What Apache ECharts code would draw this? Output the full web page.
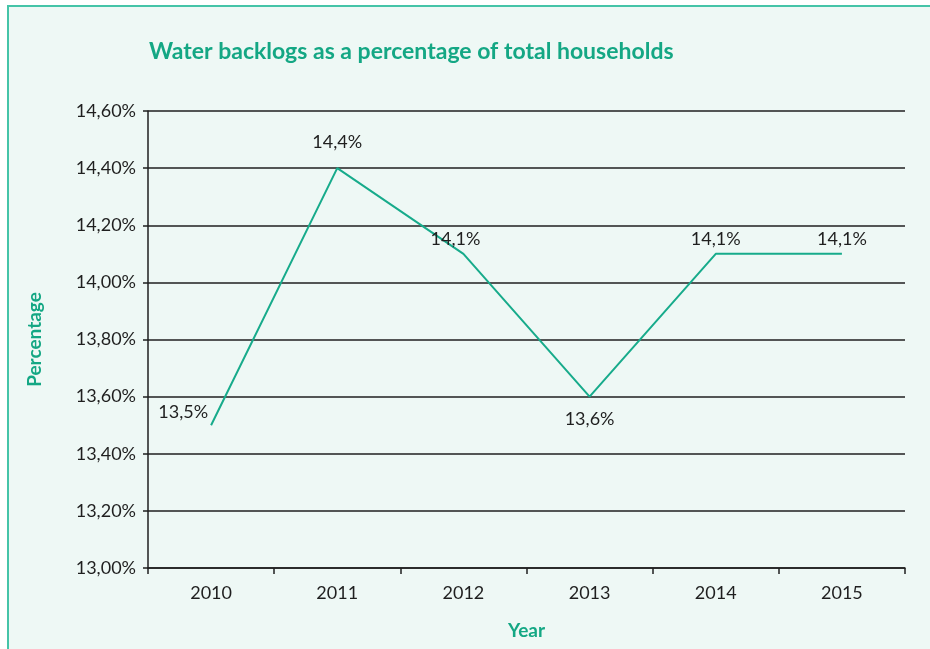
<!DOCTYPE html>
<html>
<head>
<meta charset="utf-8">
<script src="https://cdn.jsdelivr.net/npm/echarts@6/dist/echarts.min.js"></script>
<style>
  html, body { margin: 0; padding: 0; background: #ffffff; }
  #chart { width: 930px; height: 649px; }
</style>
</head>
<body>
<div id="chart"></div>
<script>
// Water backlogs, share of total households per year
const years = ['2010', '2011', '2012', '2013', '2014', '2015'];
const backlogPct = [13.5, 14.4, 14.1, 13.6, 14.1, 14.1];
const yMin = 13.0;
const yMax = 14.6;
const yStep = 0.2;

const teal = '#14a784';
const ink = '#1f1f1f';
const font = 'Lato';

const comma = (v, d) => v.toFixed(d).replace('.', ',');

// per-point label placement
const labelPlacement = [
  { position: 'left', offset: [3, -13] },
  { position: 'top', offset: [0, -11] },
  { position: 'top', offset: [-8, 0] },
  { position: 'bottom', offset: [0, 8] },
  { position: 'top', offset: [0, 0] },
  { position: 'top', offset: [0, 0] }
];

const seriesData = backlogPct.map((v, i) => ({
  value: v,
  label: labelPlacement[i]
}));

const chart = echarts.init(document.getElementById('chart'), null, { renderer: 'canvas' });
chart.setOption({
  backgroundColor: '#ffffff',
  animation: false,
  graphic: [{
    type: 'rect',
    z: -10,
    shape: { x: 8, y: 6, width: 940, height: 660 },
    style: { fill: '#eef8f5', stroke: '#45c4a8', lineWidth: 2 }
  }],
  title: {
    text: 'Water backlogs as a percentage of total households',
    left: 144,
    top: 35,
    textStyle: { color: teal, fontFamily: font, fontWeight: 'bold', fontSize: 23 }
  },
  grid: { left: 148, right: 25, top: 111, bottom: 81, containLabel: false, outerBoundsMode: 'none' },
  xAxis: {
    type: 'category',
    data: years,
    boundaryGap: true,
    name: 'Year',
    nameLocation: 'middle',
    nameGap: 53,
    nameTextStyle: { color: teal, fontFamily: font, fontWeight: 'bold', fontSize: 19 },
    axisLine: { lineStyle: { color: ink, width: 1.5 } },
    axisTick: { show: true, length: 6, lineStyle: { color: ink, width: 1.5 } },
    axisLabel: { color: ink, fontFamily: font, fontSize: 18, margin: 16 }
  },
  yAxis: {
    type: 'value',
    min: yMin,
    max: yMax,
    interval: yStep,
    name: 'Percentage',
    nameLocation: 'middle',
    nameGap: 104,
    nameRotate: 90,
    nameTextStyle: { color: teal, fontFamily: font, fontWeight: 'bold', fontSize: 19 },
    axisLine: { show: true, lineStyle: { color: ink, width: 1.5 } },
    axisTick: { show: true, length: 5, lineStyle: { color: ink, width: 1.5 } },
    axisLabel: {
      color: ink, fontFamily: font, fontSize: 18, margin: 12,
      formatter: v => comma(v, 2) + '%'
    },
    splitLine: { show: true, lineStyle: { color: ink, width: 1.5 } }
  },
  series: [{
    type: 'line',
    data: seriesData,
    showSymbol: true,
    symbol: 'circle',
    symbolSize: 2,
    itemStyle: { color: 'rgba(23,171,139,0)', borderWidth: 0 },
    lineStyle: { color: '#17ab8b', width: 2 },
    label: {
      show: true,
      color: ink,
      fontFamily: font,
      fontSize: 18,
      formatter: p => comma(p.value, 1) + '%'
    }
  }]
});
</script>
</body>
</html>
